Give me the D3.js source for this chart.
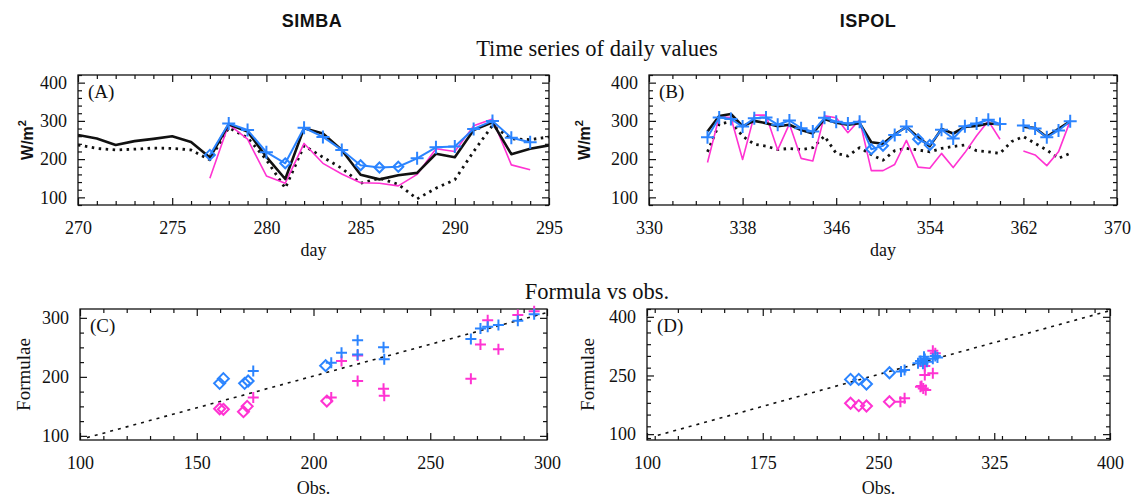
<!DOCTYPE html>
<html>
<head>
<meta charset="utf-8">
<script src="https://cdn.jsdelivr.net/npm/d3@7"></script>
<style>
  body { margin: 0; background: #fff; }
  svg text { font-family: "Liberation Serif", "Times New Roman", serif; fill: #111; }
  svg text.sans { font-family: "Liberation Sans", Arial, sans-serif; font-weight: bold; }
</style>
</head>
<body>
<svg id="chart" width="1134" height="500"></svg>
<script>
// ---- data ----

// SIMBA time series
const simbaDays = [270, 271, 272, 273, 274, 275, 276, 277, 278, 279, 280, 281, 282,
                   283, 284, 285, 286, 287, 288, 289, 290, 291, 292, 293, 294, 295];
const simbaObs = [263, 254, 237, 247, 253, 260, 245, 204, 291, 272, 206, 148, 281,
                  267, 224, 159, 147, 158, 164, 214, 205, 276, 296, 213, 227, 236];
const simbaDotted = [237, 228, 224, 226, 229, 228, 224, 198, 282, 256, 198, 124, 235,
                     205, 176, 137, 150, 134, 96, 124, 146, 220, 288, 253, 251, 258];
const simbaPink = [null, null, null, null, null, null, null, 150, 291, 252, 156, 137, 241,
                   189, 161, 138, 137, 130, 160, 227, 220, 287, 305, 185, 172, null];
const simbaBlue = [null, null, null, null, null, null, null, 211, 293, 276, 218, 189, 282,
                   258, 224, 184, 178, 180, 202, 231, 233, 279, 300, 256, 244, null];
const simbaDiamondDays = [277, 281, 285, 286, 287];

// ISPOL time series (day 361 missing except dotted)
const ispolDays = [335, 336, 337, 338, 339, 340, 341, 342, 343, 344, 345, 346, 347, 348, 349, 350,
                   351, 352, 353, 354, 355, 356, 357, 358, 359, 360, 361, 362, 363, 364, 365, 366];
const ispolObs = [272, 313, 318, 286, 300, 294, 286, 290, 276, 267, 305, 295, 290, 294, 244, 240,
                  265, 284, 257, 234, 279, 267, 284, 287, 293, 291, null, 285, 281, 258, 279, 299];
const ispolDotted = [219, 292, 298, 260, 239, 234, 225, 228, 225, 230, 260, 215, 208, 230, 212, 197,
                     222, 228, 224, 219, 228, 233, 237, 222, 219, 215, 246, 259, 241, 224, 202, 215];
const ispolPink = [191, 311, 309, 199, 315, 315, 224, 292, 202, 195, 313, 308, 269, 303, 170, 170,
                   186, 249, 179, 176, 215, 178, 217, 261, 300, 252, null, 221, 211, 183, 219, 300];
const ispolBlue = [257, 309, 305, 285, 307, 309, 290, 301, 281, 272, 308, 298, 293, 298, 226, 235,
                   263, 285, 252, 237, 277, 254, 286, 293, 303, 292, null, 288, 280, 257, 275, 299];
const ispolDiamondDays = [349, 350, 353, 354];

// SIMBA formula vs obs  [obs, formula]
const simbaBlueDiamond = [[159.8, 189], [161.4, 197], [170.5, 189], [172, 193], [205.2, 219]];
const simbaBluePlus = [[174.2, 210], [207.6, 224], [212, 241], [218.9, 262], [218.9, 238],
                       [230, 250], [230.3, 230], [267.4, 264], [271.5, 282], [274.6, 285],
                       [279.2, 288], [287.5, 295], [294.5, 306]];
const simbaPinkDiamond = [[159.8, 146], [161.4, 145], [170, 141], [171.6, 150], [205.7, 159]];
const simbaPinkPlus = [[174.2, 165], [207.6, 165], [212, 227], [218.9, 193], [218.9, 236],
                       [230, 180], [230.3, 168], [267.4, 197], [271.5, 255], [274.6, 296],
                       [279.2, 247], [287.5, 305], [294.5, 311]];
const simbaOneToOne = [[103, 97], [300, 309]];

// ISPOL formula vs obs  [obs, formula]
const ispolBlueDiamond = [[231.9, 240], [237.2, 240], [242.2, 228], [257.1, 257]];
const ispolBluePlus = [[264.6, 260], [266.9, 264], [275.6, 281], [277.2, 287], [278.8, 280],
                       [280, 292], [281.3, 285], [279.5, 298], [285.2, 293], [286.8, 300], [288.2, 296]];
const ispolPinkDiamond = [[231.9, 179], [237.2, 173], [242.2, 172], [257.1, 183]];
const ispolPinkPlus = [[264.2, 183], [266.9, 192], [277.2, 221], [279, 217], [280.6, 213],
                       [277.9, 223], [280, 274], [280, 251], [285.2, 256], [285.2, 313], [286.8, 307]];
const ispolOneToOne = [[107, 97], [400, 416]];

// tick labels
const simbaDayTicks = [270, 275, 280, 285, 290, 295];
const ispolDayTicks = [330, 338, 346, 354, 362, 370];
const fluxTicks = [100, 200, 300, 400];
const simbaObsTicks = [100, 150, 200, 250, 300];
const simbaFormTicks = [100, 200, 300];
const ispolObsTicks = [100, 175, 250, 325, 400];
const ispolFormTicks = [100, 250, 400];

// ---- drawing ----
const BLUE = "#2b84ff";
const PINK = "#ff33d2";

const svg = d3.select("#chart");
const defs = svg.append("defs");

function minorTicks(domain, step, majors) {
    let lo = Math.ceil(domain[0] / step) * step;
    return d3.range(lo, domain[1] + 1e-9, step).filter(v => !majors.includes(v));
}

function styleAxis(sel) {
    sel.select(".domain").remove();
    sel.selectAll(".tick line").attr("stroke", "#111").attr("stroke-width", 1.2);
    sel.attr("font-family", null).attr("font-size", null);
    sel.selectAll(".tick text").style("font-size", "18px").attr("fill", "#111");
}

function makePanel(cfg) {
    let p = {};
    let b = cfg.box;
    p.x = d3.scaleLinear().domain(cfg.xDomain).range([b.x0, b.x1]);
    p.y = d3.scaleLinear().domain(cfg.yDomain).range([b.y1, b.y0]);

    defs.append("clipPath").attr("id", "clip-" + cfg.id)
        .append("rect")
        .attr("x", b.x0).attr("y", b.y0)
        .attr("width", b.x1 - b.x0).attr("height", b.y1 - b.y0);

    p.g = svg.append("g");
    p.plot = p.g.append("g").attr("clip-path", "url(#clip-" + cfg.id + ")");

    let xMinor = minorTicks(cfg.xDomain, cfg.xMinor, cfg.xTicks);
    let yMinor = minorTicks(cfg.yDomain, cfg.yMinor, cfg.yTicks);

    // bottom
    p.g.append("g").attr("transform", `translate(0,${b.y1})`)
        .call(d3.axisBottom(p.x).tickValues(cfg.xTicks).tickSize(-7).tickPadding(16).tickFormat(d3.format("d")))
        .call(styleAxis);
    p.g.append("g").attr("transform", `translate(0,${b.y1})`)
        .call(d3.axisBottom(p.x).tickValues(xMinor).tickSize(-4).tickFormat(""))
        .call(styleAxis);
    // top
    p.g.append("g").attr("transform", `translate(0,${b.y0})`)
        .call(d3.axisTop(p.x).tickValues(cfg.xTicks).tickSize(-7).tickFormat(""))
        .call(styleAxis);
    p.g.append("g").attr("transform", `translate(0,${b.y0})`)
        .call(d3.axisTop(p.x).tickValues(xMinor).tickSize(-4).tickFormat(""))
        .call(styleAxis);
    // left
    p.g.append("g").attr("transform", `translate(${b.x0},0)`)
        .call(d3.axisLeft(p.y).tickValues(cfg.yTicks).tickSize(-7).tickPadding(11).tickFormat(d3.format("d")))
        .call(styleAxis);
    p.g.append("g").attr("transform", `translate(${b.x0},0)`)
        .call(d3.axisLeft(p.y).tickValues(yMinor).tickSize(-4).tickFormat(""))
        .call(styleAxis);
    // right
    p.g.append("g").attr("transform", `translate(${b.x1},0)`)
        .call(d3.axisRight(p.y).tickValues(cfg.yTicks).tickSize(-7).tickFormat(""))
        .call(styleAxis);
    p.g.append("g").attr("transform", `translate(${b.x1},0)`)
        .call(d3.axisRight(p.y).tickValues(yMinor).tickSize(-4).tickFormat(""))
        .call(styleAxis);

    // frame
    p.g.append("rect")
        .attr("x", b.x0).attr("y", b.y0)
        .attr("width", b.x1 - b.x0).attr("height", b.y1 - b.y0)
        .attr("fill", "none").attr("stroke", "#111").attr("stroke-width", 1.3);

    // panel letter
    p.g.append("text")
        .attr("x", b.x0 + 10).attr("y", b.y0 + 23)
        .style("font-size", "19px")
        .text(cfg.letter);

    // x title
    p.g.append("text")
        .attr("x", (b.x0 + b.x1) / 2).attr("y", cfg.xTitleY)
        .attr("text-anchor", "middle")
        .style("font-size", "18px")
        .text(cfg.xTitle);

    // y title
    let yt = p.g.append("text")
        .attr("transform", `translate(${cfg.yTitleX},${(b.y0 + b.y1) / 2}) rotate(-90)`)
        .attr("text-anchor", "middle")
        .attr("dominant-baseline", "central");
    if (cfg.flux) {
        yt.attr("class", "sans").style("font-size", "16px");
        yt.append("tspan").text("W/m");
        yt.append("tspan").attr("dy", "-0.45em").style("font-size", "11px").text("2");
    } else {
        yt.style("font-size", "19px").text(cfg.yTitle);
    }
    return p;
}

function plusPath(s) { return `M${-s},0H${s}M0,${-s}V${s}`; }
function diamondPath(s) { return `M0,${-s}L${s},0L0,${s}L${-s},0Z`; }

function drawSeries(p, days, values, style) {
    let pts = days.map((d, i) => [d, values[i]]);
    let line = d3.line()
        .defined(d => d[1] != null)
        .x(d => p.x(d[0]))
        .y(d => p.y(d[1]));
    p.plot.append("path")
        .datum(pts)
        .attr("d", line)
        .attr("fill", "none")
        .attr("stroke", style.color)
        .attr("stroke-width", style.width)
        .attr("stroke-dasharray", style.dash || null)
        .attr("stroke-linejoin", "round");
    return pts.filter(d => d[1] != null);
}

function drawMarkers(p, pts, color, kind, size) {
    p.g.append("g").selectAll("path")
        .data(pts)
        .join("path")
        .attr("transform", d => `translate(${p.x(d[0])},${p.y(d[1])})`)
        .attr("d", kind === "diamond" ? diamondPath(size) : plusPath(size))
        .attr("fill", "none")
        .attr("stroke", color)
        .attr("stroke-width", 2);
}

function timePanel(cfg, days, obs, dotted, pink, blue, diamondDays) {
    let p = makePanel(cfg);
    drawSeries(p, days, dotted, {color: "#111", width: 2.8, dash: "2.5,4.5"});
    drawSeries(p, days, pink, {color: PINK, width: 1.6});
    drawSeries(p, days, obs, {color: "#111", width: 2.6});
    let bpts = drawSeries(p, days, blue, {color: BLUE, width: 2});
    drawMarkers(p, bpts.filter(d => diamondDays.includes(d[0])), BLUE, "diamond", 5);
    drawMarkers(p, bpts.filter(d => !diamondDays.includes(d[0])), BLUE, "plus", 6.5);
}

function scatterPanel(cfg, ref, bd, bp, pd, pp) {
    let p = makePanel(cfg);
    p.plot.append("path")
        .datum(ref)
        .attr("d", d3.line().x(d => p.x(d[0])).y(d => p.y(d[1])))
        .attr("fill", "none").attr("stroke", "#111")
        .attr("stroke-width", 1.6).attr("stroke-dasharray", "3,5");
    drawMarkers(p, pd, PINK, "diamond", 5.5);
    drawMarkers(p, pp, PINK, "plus", 5.5);
    drawMarkers(p, bd, BLUE, "diamond", 5.5);
    drawMarkers(p, bp, BLUE, "plus", 5.5);
}

// headings
svg.append("text").attr("class", "sans").attr("x", 312).attr("y", 27)
    .attr("text-anchor", "middle").style("font-size", "18px").style("letter-spacing", "0.5px").text("SIMBA");
svg.append("text").attr("class", "sans").attr("x", 868).attr("y", 27)
    .attr("text-anchor", "middle").style("font-size", "18px").style("letter-spacing", "0.5px").text("ISPOL");
svg.append("text").attr("x", 597).attr("y", 56)
    .attr("text-anchor", "middle").style("font-size", "22.5px").text("Time series of daily values");
svg.append("text").attr("x", 597).attr("y", 299)
    .attr("text-anchor", "middle").style("font-size", "22.5px").text("Formula vs obs.");

timePanel({id: "A", letter: "(A)", box: {x0: 78, x1: 549, y0: 75, y1: 205},
           xDomain: [270, 295], yDomain: [80, 420], xTicks: simbaDayTicks, yTicks: fluxTicks,
           xMinor: 1, yMinor: 20, xTitle: "day", xTitleY: 256, yTitleX: 27, flux: true},
          simbaDays, simbaObs, simbaDotted, simbaPink, simbaBlue, simbaDiamondDays);

timePanel({id: "B", letter: "(B)", box: {x0: 649, x1: 1117, y0: 75, y1: 205},
           xDomain: [330, 370], yDomain: [80, 420], xTicks: ispolDayTicks, yTicks: fluxTicks,
           xMinor: 2, yMinor: 20, xTitle: "day", xTitleY: 256, yTitleX: 584, flux: true},
          ispolDays, ispolObs, ispolDotted, ispolPink, ispolBlue, ispolDiamondDays);

scatterPanel({id: "C", letter: "(C)", box: {x0: 80, x1: 547, y0: 309, y1: 440},
              xDomain: [100, 300], yDomain: [93, 315], xTicks: simbaObsTicks, yTicks: simbaFormTicks,
              xMinor: 10, yMinor: 25, xTitle: "Obs.", xTitleY: 494, yTitleX: 23, yTitle: "Formulae"},
             simbaOneToOne, simbaBlueDiamond, simbaBluePlus, simbaPinkDiamond, simbaPinkPlus);

scatterPanel({id: "D", letter: "(D)", box: {x0: 647, x1: 1110, y0: 309, y1: 440},
              xDomain: [100, 400], yDomain: [85, 420], xTicks: ispolObsTicks, yTicks: ispolFormTicks,
              xMinor: 15, yMinor: 30, xTitle: "Obs.", xTitleY: 494, yTitleX: 587, yTitle: "Formulae"},
             ispolOneToOne, ispolBlueDiamond, ispolBluePlus, ispolPinkDiamond, ispolPinkPlus);
</script>
</body>
</html>
